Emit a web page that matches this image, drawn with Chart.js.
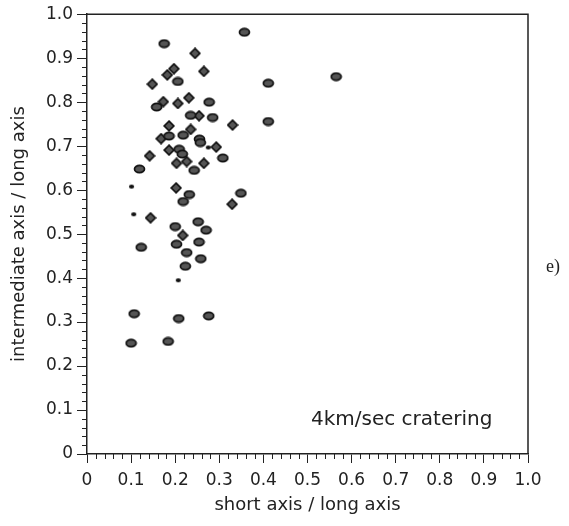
<!DOCTYPE html>
<html>
<head>
<meta charset="utf-8">
<script src="https://cdn.jsdelivr.net/npm/chart.js@4.4.1/dist/chart.umd.min.js"></script>
<style>
  html, body { margin: 0; padding: 0; background: #fff; }
  #wrap { width: 569px; height: 526px; position: relative; }
</style>
</head>
<body>
<div id="wrap"><canvas id="c"></canvas></div>
<script>
// values: short/long (x), intermediate/long (y)
const ellipseX = [0.357, 0.175, 0.206, 0.411, 0.277, 0.235, 0.285, 0.411, 0.255, 0.257,
                  0.209, 0.216, 0.308, 0.243, 0.119, 0.232, 0.218, 0.349, 0.565, 0.200,
                  0.252, 0.270, 0.123, 0.203, 0.254, 0.226, 0.258, 0.223, 0.107, 0.208,
                  0.276, 0.100, 0.184, 0.158, 0.218, 0.186];
const ellipseY = [0.959, 0.933, 0.847, 0.843, 0.800, 0.770, 0.765, 0.756, 0.716, 0.708,
                  0.693, 0.682, 0.673, 0.645, 0.648, 0.590, 0.574, 0.593, 0.858, 0.517,
                  0.528, 0.509, 0.470, 0.477, 0.482, 0.458, 0.444, 0.427, 0.319, 0.308,
                  0.314, 0.252, 0.256, 0.789, 0.725, 0.723];
const diamondX = [0.245, 0.197, 0.265, 0.182, 0.148, 0.231, 0.206, 0.254, 0.330, 0.186,
                  0.168, 0.293, 0.186, 0.142, 0.203, 0.226, 0.265, 0.202, 0.329, 0.144,
                  0.217, 0.173, 0.235];
const diamondY = [0.911, 0.876, 0.870, 0.862, 0.841, 0.810, 0.797, 0.769, 0.748, 0.746,
                  0.717, 0.698, 0.691, 0.678, 0.661, 0.665, 0.661, 0.605, 0.568, 0.537,
                  0.497, 0.801, 0.738];
const dotX = [0.275, 0.101, 0.106, 0.207];
const dotY = [0.697, 0.608, 0.545, 0.395];

const xTitle = "short axis / long axis";
const yTitle = "intermediate axis / long axis";
const noteText = "4km/sec cratering";
const panelText = "e)";

// marker images
function makeMarker(w, h, draw){
    const cv = document.createElement("canvas");
    cv.width = w; cv.height = h;
    draw(cv.getContext("2d"), w, h);
    return cv;
}
const ellipseImg = makeMarker(13, 10, function(g, w, h){
    g.beginPath();
    g.ellipse(w/2, h/2, 5, 3.6, 0, 0, Math.PI*2);
    g.fillStyle = "#555"; g.fill();
    g.lineWidth = 1.7; g.strokeStyle = "#111"; g.stroke();
});
const diamondImg = makeMarker(12, 12, function(g, w, h){
    g.beginPath();
    g.moveTo(w/2, 1.2); g.lineTo(w-1.2, h/2); g.lineTo(w/2, h-1.2); g.lineTo(1.2, h/2);
    g.closePath();
    g.fillStyle = "#555"; g.fill();
    g.lineWidth = 1.7; g.strokeStyle = "#111"; g.stroke();
});
const dotImg = makeMarker(7, 6, function(g, w, h){
    g.beginPath();
    g.ellipse(w/2, h/2, 2.6, 1.9, 0, 0, Math.PI*2);
    g.fillStyle = "#111"; g.fill();
});

function pts(xs, ys){ return xs.map((x, i) => ({x: x, y: ys[i]})); }

const font = "'DejaVu Sans', Verdana, sans-serif";

// frame, minor ticks and free text
const extras = {
    id: "extras",
    afterDraw(chart){
        const ctx = chart.ctx, a = chart.chartArea;
        const xs = chart.scales.x, ys = chart.scales.y;
        ctx.save();
        ctx.strokeStyle = "#222";
        ctx.lineWidth = 1.5;
        ctx.beginPath();
        ctx.moveTo(a.left, a.top); ctx.lineTo(a.right, a.top); ctx.lineTo(a.right, a.bottom);
        ctx.stroke();
        // minor ticks every 0.02
        ctx.lineWidth = 1;
        ctx.beginPath();
        for (let i = 1; i < 50; i++){
            if (i % 5 === 0) continue;
            const v = i / 50;
            const px = Math.round(xs.getPixelForValue(v)) + 0.5;
            ctx.moveTo(px, a.bottom); ctx.lineTo(px, a.bottom + 5);
            const py = Math.round(ys.getPixelForValue(v)) + 0.5;
            ctx.moveTo(a.left, py); ctx.lineTo(a.left - 5, py);
        }
        ctx.stroke();
        ctx.fillStyle = "#222";
        ctx.font = "20px " + font;
        ctx.textBaseline = "middle";
        ctx.textAlign = "left";
        ctx.fillText(noteText, 311, 420);
        ctx.font = "18px 'Liberation Serif', 'Times New Roman', serif";
        ctx.fillText(panelText, 546, 267);
        ctx.restore();
    }
};

new Chart("c", {
    type: "scatter",
    data: {
        datasets: [
            {label: "ellipse", data: pts(ellipseX, ellipseY), pointStyle: ellipseImg},
            {label: "diamond", data: pts(diamondX, diamondY), pointStyle: diamondImg},
            {label: "dot", data: pts(dotX, dotY), pointStyle: dotImg}
        ]
    },
    options: {
        responsive: true,
        maintainAspectRatio: false,
        animation: false,
        layout: {padding: {left: 0, top: 13, right: 41, bottom: 0}},
        plugins: {legend: {display: false}, tooltip: {enabled: false}},
        scales: {
            x: {
                type: "linear", min: 0, max: 1,
                ticks: {
                    stepSize: 0.1, color: "#222", padding: 7,
                    font: {family: font, size: 17},
                    callback: v => v === 0 ? "0" : v.toFixed(1)
                },
                grid: {drawOnChartArea: false, drawTicks: true, tickLength: 9, tickColor: "#222"},
                border: {color: "#222", width: 1.5},
                title: {display: true, text: xTitle, color: "#222", padding: {top: 0, bottom: 10},
                        font: {family: font, size: 18}},
                afterFit: s => { s.height = 72; }
            },
            y: {
                type: "linear", min: 0, max: 1,
                ticks: {
                    stepSize: 0.1, color: "#222", padding: 4,
                    font: {family: font, size: 17},
                    callback: v => v === 0 ? "0" : v.toFixed(1)
                },
                grid: {drawOnChartArea: false, drawTicks: true, tickLength: 10, tickColor: "#222"},
                border: {color: "#222", width: 1.5},
                title: {display: true, text: yTitle, color: "#222", padding: {top: 9, bottom: 0},
                        font: {family: font, size: 18}},
                afterFit: s => { s.width = 87; }
            }
        }
    },
    plugins: [extras]
});
</script>
</body>
</html>
